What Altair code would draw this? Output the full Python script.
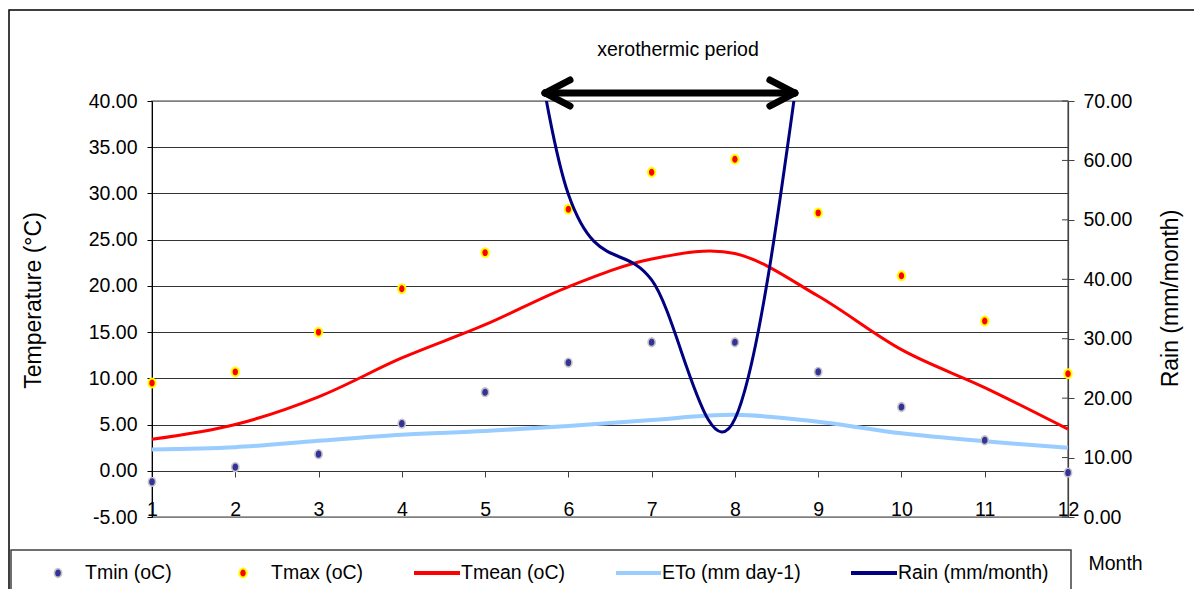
import altair as alt
import pandas as pd

# ---------------- data ----------------
months = [1, 2, 3, 4, 5, 6, 7, 8, 9, 10, 11, 12]
tmin = [-1.2, 0.4, 1.8, 5.1, 8.5, 11.7, 13.9, 13.9, 10.7, 6.9, 3.3, -0.2]
tmax = [9.5, 10.7, 15.0, 19.7, 23.6, 28.3, 32.3, 33.7, 27.9, 21.1, 16.2, 10.5]
tmean = [3.4, 5.0, 8.0, 12.2, 15.8, 19.9, 22.9, 23.5, 18.9, 13.1, 9.0, 4.5]
eto = [2.3, 2.55, 3.25, 3.9, 4.3, 4.85, 5.5, 6.05, 5.3, 4.05, 3.2, 2.5]
rain = [180, 150, 125, 105, 120, 54.3, 39.9, 16.5, 100, 217, 230, 210]

temp_ticks = [-5, 0, 5, 10, 15, 20, 25, 30, 35, 40]
rain_ticks = [0, 10, 20, 30, 40, 50, 60, 70]
series_names = ["Tmin (oC)", "Tmax (oC)", "Tmean (oC)", "ETo (mm day-1)", "Rain (mm/month)"]
annotation_text = "xerothermic period"
xero_start, xero_end = 5.72, 8.72

# ---------------- layout / style ----------------
W, H = 916, 416
FONT = "Liberation Sans, Arial, sans-serif"
FS = 19.5          # horizontal texts
TFS = 23           # rotated axis titles
ELLIPSE = "M-0.83,0A0.83,1,0,1,0,0.83,0A0.83,1,0,1,0,-0.83,0Z"
LABEL_EXPR = "datum.value < 0 ? '-' + format(-datum.value, '.2f') : format(datum.value, '.2f')"

df = pd.DataFrame({"month": months, "tmin": tmin, "tmax": tmax,
                   "tmean": tmean, "eto": eto, "rain": rain})
one = pd.DataFrame({"k": [0]})

x_scale = alt.Scale(domain=[1, 12], nice=False, zero=False)
x_axis = alt.Axis(values=months, format="d", title="Month", offset=-46,
                  tickSize=6, tickColor="#404040", domain=False, grid=False,
                  labelPadding=38, labelBaseline="alphabetic", labelFlush=False,
                  labelOverlap=False, labelAlign="center",
                  titleX=936, titleY=92, titleAlign="left", titleBaseline="middle",
                  titleAngle=0, titleFont=FONT, titleFontSize=FS,
                  titleFontWeight="normal", titleColor="black")
X = alt.X("month:Q", scale=x_scale, axis=x_axis)

temp_scale = alt.Scale(domain=[-5, 40], nice=False, zero=False)
temp_axis = alt.Axis(values=temp_ticks, labelExpr=LABEL_EXPR, title="Temperature (°C)",
                     orient="left", tickSize=5, tickColor="black",
                     domainColor="black", domainWidth=1, labelPadding=10,
                     grid=True,
                     gridColor={"condition": {"test": "datum.value == 40 || datum.value == -5",
                                              "value": "#808080"},
                                "value": "#333333"},
                     gridWidth=1, titleAngle=270, titleX=-119, titleY=199,
                     titleAlign="center", titleBaseline="middle", titleFont=FONT,
                     titleFontSize=TFS, titleFontWeight="normal", titleColor="black")

rain_scale = alt.Scale(domain=[0, 70], nice=False, zero=False)
rain_axis = alt.Axis(values=rain_ticks, format=".2f", title="Rain (mm/month)",
                     orient="right", tickSize=6, tickColor="#404040",
                     domainColor="#404040", domainWidth=1.2, labelPadding=9,
                     grid=False, titleAngle=270, titleX=102, titleY=197,
                     titleAlign="center", titleBaseline="middle", titleFont=FONT,
                     titleFontSize=TFS, titleFontWeight="normal", titleColor="black")


def ty(field):
    return alt.Y(f"{field}:Q", scale=temp_scale, axis=temp_axis)


TMIN_STYLE = dict(shape=ELLIPSE, filled=True, size=76, fill="#333399",
                  stroke="#c4c4c4", strokeWidth=1.6, opacity=1)
TMAX_STYLE = dict(shape=ELLIPSE, filled=True, size=80, fill="#ff0000",
                  stroke="#ffff00", strokeWidth=2, opacity=1)

eto_line = alt.Chart(df).mark_line(color="#99ccff", strokeWidth=4,
                                   interpolate="cardinal", tension=0).encode(x=X, y=ty("eto"))
tmean_line = alt.Chart(df).mark_line(color="#ff0000", strokeWidth=3,
                                     interpolate="cardinal", tension=0).encode(x=X, y=ty("tmean"))
tmin_pts = alt.Chart(df).mark_point(**TMIN_STYLE).encode(x=X, y=ty("tmin"))
tmax_pts = alt.Chart(df).mark_point(**TMAX_STYLE).encode(x=X, y=ty("tmax"))

# annotation: double arrow + text
arrow_y = -8
shaft = alt.Chart(one).mark_rule(color="black", strokeWidth=7, strokeCap="round").encode(
    x=alt.datum(xero_start), x2=alt.datum(xero_end), y=alt.value(arrow_y))
heads = []
for tip, back in [(xero_start, xero_start + 0.3), (xero_end, xero_end - 0.3)]:
    for dy in (-13, 13):
        heads.append(alt.Chart(one).mark_rule(color="black", strokeWidth=7, strokeCap="round").encode(
            x=alt.datum(tip), x2=alt.datum(back), y=alt.value(arrow_y), y2=alt.value(arrow_y + dy)))
xero_label = alt.Chart(one).mark_text(text=annotation_text, font=FONT, fontSize=FS,
                                      color="black", align="center",
                                      baseline="alphabetic").encode(
    x=alt.value(526), y=alt.value(-45))

# frames
outer = alt.Chart(one).mark_rect(fillOpacity=0, stroke="black", strokeWidth=1.5).encode(
    x=alt.value(-143), x2=alt.value(1100), y=alt.value(-91), y2=alt.value(700))
legend_box = alt.Chart(one).mark_rect(fillOpacity=0, stroke="#404040", strokeWidth=1.5).encode(
    x=alt.value(-141), x2=alt.value(919), y=alt.value(449), y2=alt.value(700))

# legend
LY = 472
leg = []
leg.append(alt.Chart(one).mark_point(**TMIN_STYLE).encode(x=alt.value(-94), y=alt.value(LY)))
leg.append(alt.Chart(one).mark_point(**TMAX_STYLE).encode(x=alt.value(91), y=alt.value(LY)))
for (x0, x1, col, w) in [(262, 308, "#ff0000", 4), (464, 509, "#99ccff", 4), (699, 745, "#000080", 4)]:
    leg.append(alt.Chart(one).mark_rule(color=col, strokeWidth=w).encode(
        x=alt.value(x0), x2=alt.value(x1), y=alt.value(LY)))
for name, tx in zip(series_names, [-67, 119, 309, 510, 746]):
    leg.append(alt.Chart(one).mark_text(text=name, font=FONT, fontSize=FS, color="black",
                                        align="left", baseline="middle").encode(
        x=alt.value(tx), y=alt.value(LY)))

# right-axis inner tick halves
rain_tick_df = pd.DataFrame({"rain": rain_ticks})
rain_inner = alt.Chart(rain_tick_df).mark_rule(color="#404040", strokeWidth=1).encode(
    x=alt.value(W - 6), x2=alt.value(W),
    y=alt.Y("rain:Q", scale=rain_scale, axis=rain_axis))
rain_line = alt.Chart(df).mark_line(color="#000080", strokeWidth=3, interpolate="cardinal",
                                    tension=0, clip=True).encode(
    x=X, y=alt.Y("rain:Q", scale=rain_scale, axis=rain_axis))

temp_group = alt.layer(outer, legend_box, eto_line, tmean_line, tmin_pts, tmax_pts,
                       shaft, *heads, xero_label, *leg)
rain_group = alt.layer(rain_inner, rain_line)

chart = alt.layer(temp_group, rain_group).resolve_scale(y="independent").properties(
    width=W, height=H,
    autosize=alt.AutoSizeParams(type="none"),
    padding={"left": 144, "top": 93, "right": 126, "bottom": 72},
    background="white",
).configure_axis(
    labelFont=FONT, labelFontSize=FS, labelColor="black"
).configure_view(stroke="#808080", strokeWidth=1.5)

chart.save("out.html", embed_options={"renderer": "svg", "actions": False})
